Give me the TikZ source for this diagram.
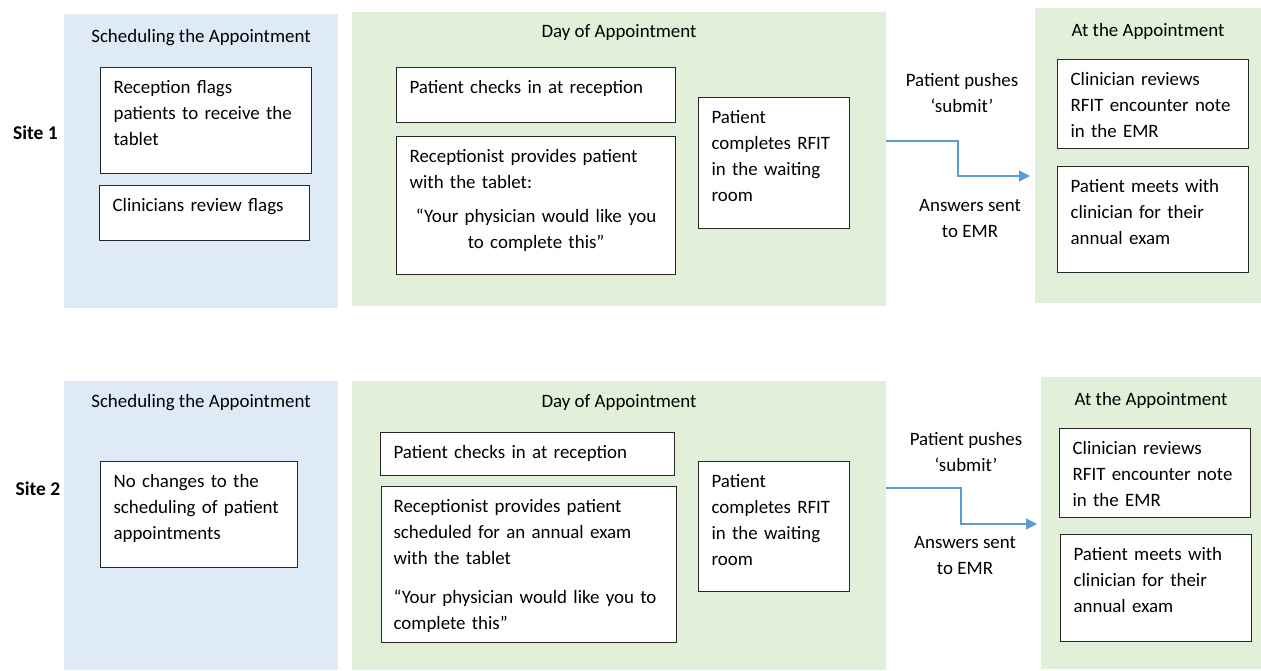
\documentclass[tikz,border=0pt]{standalone}
\usepackage{fontspec}
\setmainfont{Carlito}
\usetikzlibrary{arrows.meta}
\definecolor{schedblue}{HTML}{DEEAF6}
\definecolor{daygreen}{HTML}{E2EFD9}
\definecolor{flowblue}{HTML}{5B9BD5}
\begin{document}
\begin{tikzpicture}
  [x=1pt, y=-1pt, every node/.style={font=\fontsize{18.9}{26}\selectfont}, arrows={-{Triangle[length=11pt,width=11pt]}}]
  \tikzset{panel/.style={anchor=north west, inner sep=0pt, outer sep=0pt}}
  \tikzset{sched/.style={panel, fill=schedblue}}
  \tikzset{day/.style={panel, fill=daygreen}}
  \tikzset{title/.style={anchor=base, inner sep=0pt}}
  \tikzset{card/.style={draw=black!85, line width=1.2pt, fill=white, anchor=north west, align=left, inner xsep=13pt, inner ysep=4pt, text height=22pt}}
  \tikzset{site/.style={anchor=base, inner sep=0pt, font=\fontsize{19.5}{26}\selectfont\bfseries}}
  \tikzset{note/.style={align=center, inner sep=0pt}}
  \tikzset{flow/.style={draw=flowblue, line width=1.2pt, fill=none}}

  \useasboundingbox (0,0) rectangle (1261,670);

  % Site 1
  \node[site] (site1) at (35.5,139) {Site 1};
  \node[sched, minimum width=274pt, minimum height=294pt] (sched1) at (64,14) {};
  \node[day, minimum width=534pt, minimum height=294pt] (day1) at (352,12) {};
  \node[day, minimum width=226pt, minimum height=295pt] (appt1) at (1035,8) {};
  \node[title] (sched1t) at ([yshift=-28pt]sched1.north) {Scheduling the Appointment};
  \node[title] (day1t) at ([yshift=-25pt]day1.north) {Day of Appointment};
  \node[title] (appt1t) at ([yshift=-28pt]appt1.north) {At the Appointment};

  \node[card, text width=185pt, text depth=76pt] (flag1) at (100,67) {Reception flags\\patients to receive the\\tablet};
  \node[card, text width=184pt, text depth=25pt] (review1) at (99,185) {Clinicians review flags};
  \node[card, text width=253pt, text depth=25pt] (check1) at (396,67) {Patient checks in at reception};
  \node[card, text width=253pt, text depth=108pt] (tablet1) at (396,136) {Receptionist provides patient\\with the tablet:\par\vspace{8pt}{\centering “Your physician would like you\\to complete this”\par}};
  \node[card, text width=125pt, text depth=101pt] (rfit1) at (698,97) {Patient\\completes RFIT\\in the waiting\\room};
  \node[card, text width=165pt, text depth=59pt] (note1) at (1057,59) {Clinician reviews\\RFIT encounter note\\in the EMR};
  \node[card, text width=165pt, text depth=76pt] (exam1) at (1057,166) {Patient meets with\\clinician for their\\annual exam};

  \node[note] (push1) at (962,93) {Patient pushes\\‘submit’};
  \node[note] (sent1) at (970,219) {Answers sent\\to EMR};
  \draw[flow, shorten >=5pt] ([yshift=18pt]day1.east) -- ++(72,0) |- ([yshift=-20.5pt]appt1.west);

  % Site 2
  \node[site] (site2) at (38,495) {Site 2};
  \node[sched, minimum width=274pt, minimum height=289pt] (sched2) at (64,381) {};
  \node[day, minimum width=534pt, minimum height=289pt] (day2) at (352,381) {};
  \node[day, minimum width=220pt, minimum height=292pt] (appt2) at (1041,377) {};
  \node[title] (sched2t) at ([yshift=-26pt]sched2.north) {Scheduling the Appointment};
  \node[title] (day2t) at ([yshift=-26pt]day2.north) {Day of Appointment};
  \node[title] (appt2t) at ([yshift=-28pt]appt2.north) {At the Appointment};

  \node[card, text width=171pt, text depth=76pt] (sched2b) at (100,461) {No changes to the\\scheduling of patient\\appointments};
  \node[card, text width=268pt, text depth=13pt] (check2) at (380,432) {Patient checks in at reception};
  \node[card, inner xsep=12pt, text width=271pt, text depth=126pt] (tablet2) at (381,486) {Receptionist provides patient\\scheduled for an annual exam\\with the tablet\\[13pt]“Your physician would like you to\\complete this”};
  \node[card, text width=125pt, text depth=100pt] (rfit2) at (698,461) {Patient\\completes RFIT\\in the waiting\\room};
  \node[card, text width=165pt, text depth=59pt] (note2) at (1059,428) {Clinician reviews\\RFIT encounter note\\in the EMR};
  \node[card, text width=165pt, text depth=77pt] (exam2) at (1060,534) {Patient meets with\\clinician for their\\annual exam};

  \node[note] (push2) at (966,452) {Patient pushes\\‘submit’};
  \node[note] (sent2) at (965,555) {Answers sent\\to EMR};
  \draw[flow, shorten >=4pt] ([yshift=37.5pt]day2.east) -- ++(75,0) |- ([yshift=-1pt]appt2.west);
\end{tikzpicture}
\end{document}
